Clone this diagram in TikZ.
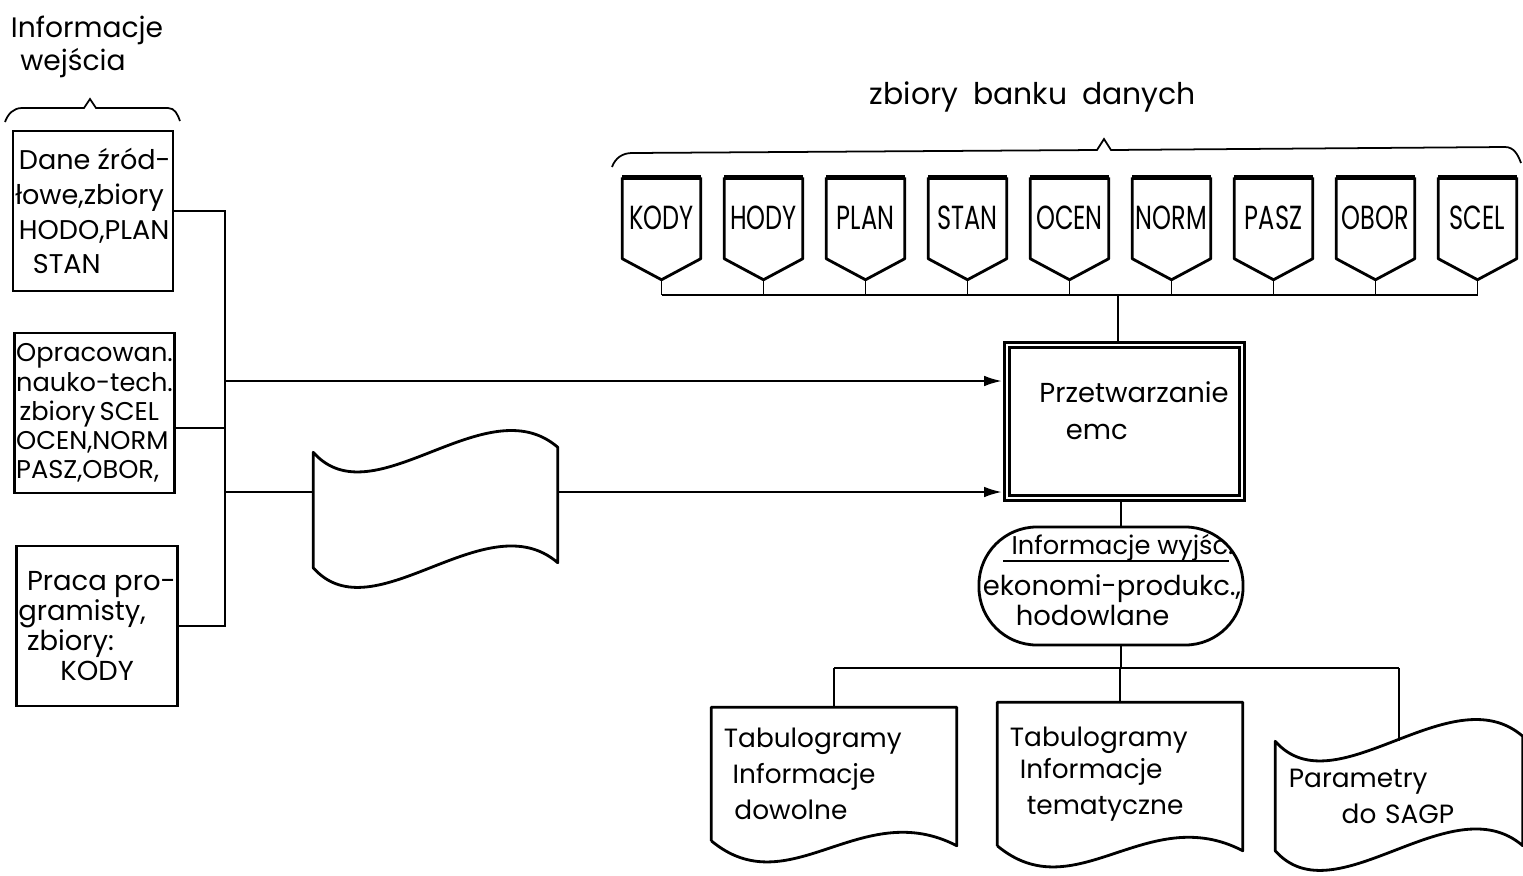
\documentclass[tikz,border=0pt]{standalone}
\usepackage{fontspec}
\setmainfont{Poppins}
\newfontfamily\waski[FakeStretch=0.72]{Poppins}
\usetikzlibrary{arrows.meta}

% kontury symboli rysowane wzgledem wezlow
\newcommand{\dokument}[1]{%
  \draw[kontur] (#1.south west) -- (#1.north west) -- (#1.north east) -- ([yshift=-0.05cm]#1.south east)
    .. controls +(-96,-50) and +(78,65) .. (#1.south west);}
\newcommand{\tasma}[1]{%
  \draw[kontur] (#1.north west) .. controls +(60,68) and +(-72,-62) .. ([yshift=0.05cm]#1.north east)
    -- ([yshift=0.05cm]#1.south east) .. controls +(-72,-62) and +(60,68) .. (#1.south west) -- cycle;}

\begin{document}
\begin{tikzpicture}[x=0.01cm,y=-0.01cm,
  kontur/.style={line width=0.8pt, line join=round},
  linia/.style={line width=0.5pt},
  strz/.style={line width=0.5pt, -{Latex[length=5pt,width=3pt]}, shorten >=1.1pt},
  pole/.style={draw, line width=0.8pt, minimum width=1.6cm, minimum height=1.6cm,
    align=left, inner sep=0.02cm},
  zbior/.style={minimum width=0.77cm, minimum height=0.8cm, inner sep=0,
    font=\waski\fontsize{9.5}{10}\selectfont},
  wydruk/.style={minimum width=2.44cm, text width=2.2cm, align=left, inner xsep=0.12cm,
    font=\fontsize{7.5}{10.2}\selectfont},
  font=\fontsize{8}{9.5}\selectfont]
\useasboundingbox (0,0) rectangle (1523,875);

% wejscie
\node[align=center, font=\fontsize{8}{9.4}\selectfont] (wej) at (87,47) {Informacje\\wejścia\hspace*{8pt}};
\draw[linia] (5,122) to[out=70,in=180] (22,108) -- (84,108) -- (90,99) -- (96,108) -- (168,108) to[out=0,in=110] (180,121);

\node[pole, font=\fontsize{7.7}{9.9}\selectfont] (b1) at (93,211) {\hspace*{1pt}Dane źród-\\łowe,zbiory\\\hspace*{1pt}HODO,PLAN\\\hspace*{5pt}STAN};
\node[pole, font=\fontsize{7.3}{8.3}\selectfont] (b2) at (94.5,413) {Opracowan.\\nauko-tech.\\\hspace*{1pt}zbiory\,SCEL\\OCEN,NORM\\PASZ,OBOR,};
\node[pole, font=\fontsize{7.8}{8.6}\selectfont] (b3) at (97,626) {\hspace*{2.5pt}Praca pro-\\gramisty,\\\hspace*{2.5pt}zbiory:\\\hspace*{12pt}KODY};

% bank danych
\node[font=\fontsize{8.5}{10}\selectfont] (bank) at (1033,97) {zbiory\hspace{2pt} banku\hspace{2pt} danych};
\draw[linia] (612,167) to[out=70,in=180] (632,153) -- (1097,150) -- (1104,139) -- (1111,150) -- (1505,147) to[out=0,in=110] (1521,163);

\coordinate (szyna) at (1118,295);
\foreach \n [count=\i] in {KODY,HODY,PLAN,STAN,OCEN,NORM,PASZ,OBOR,SCEL}{
  \node[zbior] (z\i) at ({661.5+102*(\i-1)},218) {\n};
  \draw[kontur] (z\i.north west) -- (z\i.south west) -- ([yshift=-0.21cm]z\i.south) -- (z\i.south east) -- (z\i.north east);
  \draw[line width=1.5pt] (z\i.north west) -- (z\i.north east);
  \draw[linia] ([yshift=-0.21cm]z\i.south) -- (z\i.south |- szyna);
}
\draw[linia] (z1.south |- szyna) -- (z9.south |- szyna);

% przetwarzanie
\node[draw, double, line width=0.75pt, double distance=0.7pt, minimum width=2.35cm, minimum height=1.53cm] (proc) at (1124.5,421.5) {};
\node[anchor=west, align=left, font=\fontsize{7.8}{10.5}\selectfont] (proc-t) at (1027,411) {Przetwarzanie\\\hspace*{7.5pt}emc};
\draw[linia] (szyna) -- (szyna |- proc.north);

% polaczenia wejscia
\coordinate (w1) at (225,381);
\coordinate (w2) at (225,492);
\coordinate (b2e) at ([yshift=-0.15cm]b2.east);
\draw[linia] (b1.east) -- (b1.east -| w1) -- (b3.east -| w1) -- (b3.east);
\draw[linia] (b2e) -- (b2e -| w1);
\node[minimum width=2.43cm, minimum height=1.14cm, inner sep=0] (t1) at (435.5,510) {};
\tasma{t1}
\draw[strz] (w1) -- (w1 -| proc.west);
\draw[linia] (w2) -- (w2 -| t1.west);
\draw[strz] (w2 -| t1.east) -- (w2 -| proc.west);

% wyjscie
\node[draw, line width=0.8pt, rounded corners=0.58cm, minimum width=2.64cm, minimum height=1.18cm] (term) at (1111,586) {};
\node[align=center, font=\fontsize{7.8}{8.6}\selectfont] (term-t) at (1112,580)
  {\hspace*{6pt}{\fontsize{7.3}{8}\selectfont Informacje wyjśc.}\\[3pt]ekonomi-produkc.,\\hodowlane\hspace*{11pt}};
\draw[linia] ([shift={(-108,-25)}]term.center) -- ([shift={(118,-25)}]term.center);
\coordinate (szyna2) at (1121,668);
\draw[linia] (szyna2 |- proc.south) -- (szyna2 |- term.north);
\draw[linia] (szyna2 |- term.south) -- (szyna2);

\node[wydruk, minimum height=1.32cm] (d1) at (834,774) {Tabulogramy\\\hspace*{2.5pt}Informacje\\\hspace*{3pt}dowolne};
\dokument{d1}
\node[wydruk, minimum height=1.42cm] (d2) at (1120,774) {Tabulogramy\\[-1pt]\hspace*{2.8pt}Informacje\\\hspace*{4.8pt}tematyczne\\[3pt]};
\dokument{d2}
\node[wydruk, minimum width=2.46cm, minimum height=1.08cm, inner xsep=0.13cm] (t3) at (1399,796) {Parametry\\\hspace*{15pt}do SAGP};
\tasma{t3}

\draw[linia] (d1.north |- szyna2) -- (t3.north |- szyna2);
\draw[linia] (d1.north |- szyna2) -- (d1.north);
\draw[linia] (d2.north |- szyna2) -- (d2.north);
\draw[linia] (t3.north |- szyna2) -- (t3.north);
\end{tikzpicture}
\end{document}
